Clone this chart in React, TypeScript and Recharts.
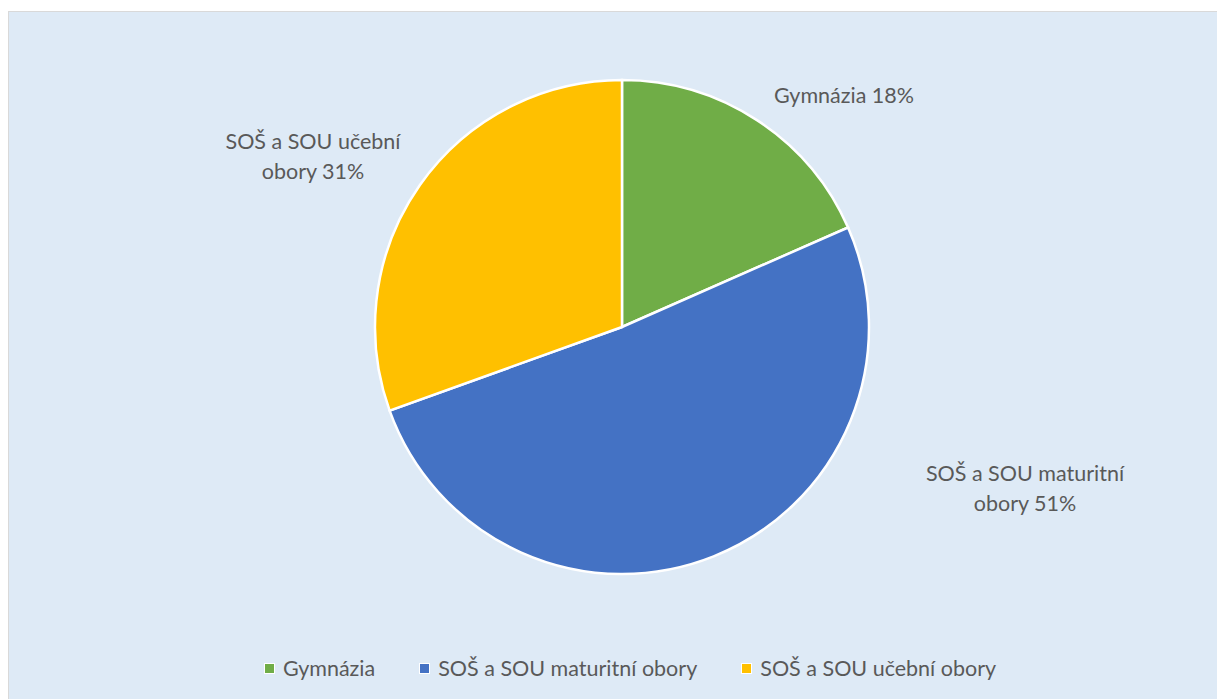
import React from 'react';
import { PieChart, Pie, Cell, Legend } from 'recharts';

const categories = ['Gymnázia', 'SOŠ a SOU maturitní obory', 'SOŠ a SOU učební obory'];
const shares = [18.4, 51.1, 30.5];
// label text broken into lines like the source (percent appended below)
const labelLines = [['Gymnázia'], ['SOŠ a SOU maturitní', 'obory'], ['SOŠ a SOU učební', 'obory']];

const COLORS = ['#70AD47', '#4472C4', '#FFC000'];
// label anchors relative to pie centre (best-fit placement as in the source)
const LABEL_POS: [number, number][] = [[222, -232], [403, 161], [-309, -171]];

const FONT = 'Lato, "Open Sans", sans-serif';
const TEXT = '#595959';

const total = shares.reduce((s, v) => s + v, 0);
const data = categories.map((name, i) => ({ name, value: shares[i] }));

const renderLabel = (p: any) => {
  const i = p.index;
  const [ox, oy] = LABEL_POS[i];
  const pct = Math.round((shares[i] / total) * 100);
  const lines = labelLines[i].map((l, k, arr) => (k === arr.length - 1 ? `${l} ${pct}%` : l));
  const x = p.cx + ox;
  const y0 = p.cy + oy - ((lines.length - 1) * 30) / 2;
  return (
    <text x={x} y={y0} textAnchor="middle" dominantBaseline="central" fill={TEXT} fontSize={21.5} fontFamily={FONT}>
      {lines.map((l, k) => (
        <tspan key={k} x={x} dy={k === 0 ? 0 : 30}>{l}</tspan>
      ))}
    </text>
  );
};

const renderLegend = () => (
  <div style={{ display: 'flex', justifyContent: 'center', fontFamily: FONT, fontSize: 21.5, color: TEXT, paddingLeft: 26 }}>
    {categories.map((c, i) => (
      <div key={c} style={{ display: 'flex', alignItems: 'center', marginRight: i < categories.length - 1 ? 44 : 0 }}>
        <span style={{ width: 9, height: 9, background: COLORS[i], border: '1px solid #fff', marginRight: 8, display: 'inline-block' }} />
        <span>{c}</span>
      </div>
    ))}
  </div>
);

export default function App() {
  return (
    <div style={{ marginTop: 3, width: 1230, height: 700, border: '1px solid #D9D9D9', background: '#DEEAF6', boxSizing: 'border-box', overflow: 'hidden' }}>
      <PieChart width={1216} height={690}>
        <Pie
          data={data}
          dataKey="value"
          nameKey="name"
          cx={608}
          cy={310}
          outerRadius={247}
          startAngle={90}
          endAngle={-270}
          stroke="#FFFFFF"
          strokeWidth={2.5}
          label={renderLabel}
          labelLine={false}
          isAnimationActive={false}
        >
          {data.map((d, i) => (
            <Cell key={d.name} fill={COLORS[i]} />
          ))}
        </Pie>
        <Legend content={renderLegend} wrapperStyle={{ position: 'absolute', top: 643, left: 0, width: 1216 }} />
      </PieChart>
    </div>
  );
}
